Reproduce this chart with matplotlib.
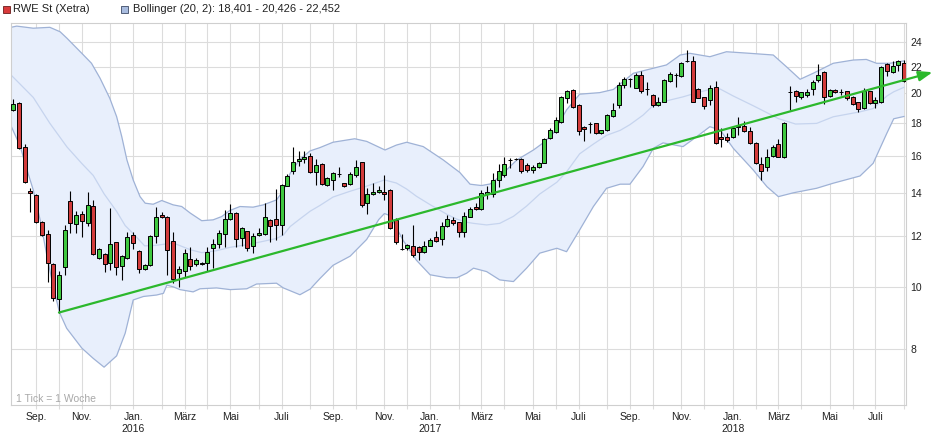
import numpy as np
import pandas as pd
import matplotlib
matplotlib.use("Agg")
import matplotlib.pyplot as plt
from matplotlib.patches import Rectangle
from matplotlib.ticker import FixedLocator, NullLocator

plt.rcParams['font.family'] = ['Liberation Sans', 'DejaVu Sans']

# weekly candles RWE St (Xetra), first week 3 Aug 2015
opens = [18.83, 19.29, 16.48, 14.08, 13.90, 12.60, 12.07, 10.85, 9.57, 10.73,
         13.59, 12.51, 12.97, 12.56, 13.36, 11.07, 11.24, 10.89, 11.73, 10.76,
         11.07, 12.03, 11.38, 10.65, 10.81, 12.00, 12.92, 12.85, 11.78, 10.50,
         10.57, 11.05, 10.85, 10.87, 10.89, 11.48, 11.65, 12.09, 12.74, 13.02,
         11.93, 12.20, 11.56, 12.02, 12.08, 12.71, 12.74, 12.48, 14.37, 15.12,
         15.68, 15.79, 15.96, 15.06, 15.53, 14.42, 14.64, 14.95, 14.49, 14.46,
         14.91, 15.62, 13.52, 13.96, 14.03, 14.06, 14.15, 12.71, 11.46, 11.50,
         11.56, 11.53, 11.32, 11.58, 11.96, 11.86, 12.44, 12.71, 12.59, 12.17,
         12.86, 13.30, 13.20, 13.93, 13.93, 14.66, 14.93, 15.75, 15.80, 15.79,
         15.46, 15.21, 15.36, 15.60, 17.02, 17.43, 18.02, 19.64, 20.23, 19.17,
         17.70, 17.89, 17.96, 17.33, 17.53, 18.46, 19.17, 20.57, 21.01, 20.40,
         21.35, 20.30, 19.87, 19.15, 19.40, 20.92, 21.33, 21.27, 22.41, 22.45,
         20.30, 19.71, 19.52, 20.42, 17.10, 17.08, 17.08, 17.74, 17.79, 17.47,
         16.76, 15.51, 15.38, 15.98, 16.68, 15.90, 20.05, 20.16, 19.75, 19.85,
         20.30, 20.94, 21.60, 19.80, 20.23, 20.10, 20.13, 19.75, 19.36, 18.99,
         20.13, 19.29, 19.36, 22.18, 21.55, 22.10, 22.32]
highs = [19.57, 19.38, 16.68, 14.23, 13.95, 12.66, 12.26, 10.89, 10.60, 12.48,
         14.10, 13.12, 13.12, 14.05, 13.65, 11.49, 11.28, 13.25, 11.76, 11.22,
         12.18, 12.18, 11.42, 10.85, 12.05, 13.30, 13.06, 12.89, 12.18, 10.76,
         11.45, 11.52, 11.09, 10.93, 11.52, 11.86, 12.26, 13.17, 13.47, 13.05,
         12.38, 12.23, 12.12, 12.35, 13.52, 12.74, 14.20, 14.44, 15.00, 16.50,
         16.27, 16.25, 16.13, 15.79, 15.60, 14.84, 15.10, 15.36, 14.52, 15.10,
         15.75, 15.66, 14.23, 14.52, 14.36, 14.93, 14.18, 12.78, 12.07, 11.67,
         12.48, 11.56, 11.80, 11.90, 12.22, 12.63, 12.94, 12.86, 12.63, 13.06,
         13.33, 13.49, 14.12, 14.35, 15.02, 15.51, 15.94, 15.84, 15.88, 15.84,
         15.57, 15.48, 15.66, 17.02, 17.64, 18.39, 19.80, 20.23, 20.30, 19.24,
         17.79, 18.06, 18.00, 17.55, 18.54, 19.29, 20.85, 21.22, 21.15, 21.52,
         21.68, 20.85, 19.94, 19.75, 21.01, 21.60, 21.47, 22.34, 23.34, 22.85,
         20.35, 19.75, 20.60, 20.90, 17.64, 17.33, 17.74, 18.35, 18.10, 17.74,
         16.80, 15.94, 16.37, 16.60, 17.00, 18.02, 20.52, 20.23, 20.11, 20.27,
         20.97, 22.21, 21.65, 20.28, 20.30, 20.28, 20.18, 19.80, 19.40, 20.40,
         20.18, 19.71, 22.05, 22.26, 22.43, 22.53, 22.55]
lows = [18.79, 16.37, 14.49, 13.09, 12.56, 12.00, 10.19, 9.49, 9.12, 10.43,
        12.12, 12.12, 11.94, 12.45, 11.21, 11.05, 10.56, 10.62, 10.43, 10.25,
        11.05, 11.45, 10.50, 10.62, 10.76, 11.69, 12.79, 10.43, 10.13, 10.01,
        10.37, 10.62, 10.76, 10.82, 10.57, 10.69, 11.49, 11.52, 12.71, 11.52,
        11.56, 11.35, 11.28, 12.00, 12.05, 11.76, 11.83, 12.05, 14.35, 14.95,
        15.42, 15.60, 15.02, 14.40, 14.41, 14.35, 14.12, 14.84, 14.32, 14.41,
        14.84, 13.33, 12.97, 13.90, 13.98, 13.65, 12.29, 11.67, 11.42, 11.42,
        11.12, 11.02, 11.28, 11.56, 11.76, 11.61, 12.38, 12.48, 11.97, 11.97,
        12.83, 13.17, 13.17, 13.68, 13.81, 14.29, 14.84, 15.29, 15.75, 15.02,
        15.10, 15.02, 15.29, 15.57, 16.98, 17.37, 17.96, 19.29, 18.95, 17.22,
        16.88, 17.37, 17.26, 17.29, 17.47, 18.39, 18.95, 20.35, 20.47, 20.35,
        20.04, 19.87, 19.01, 19.10, 19.38, 20.85, 20.47, 21.22, 22.34, 19.36,
        19.64, 18.88, 19.17, 16.66, 16.52, 16.82, 17.02, 17.22, 17.43, 16.68,
        15.53, 14.66, 15.16, 15.94, 15.90, 15.88, 18.83, 19.40, 19.57, 19.75,
        19.87, 20.79, 19.24, 19.75, 20.04, 19.85, 19.52, 19.15, 18.68, 18.88,
        19.22, 18.95, 19.29, 21.27, 21.47, 21.68, 20.80]
closes = [19.22, 16.42, 14.54, 13.98, 12.60, 12.03, 10.89, 9.60, 10.42, 12.25,
          12.56, 12.92, 12.65, 13.39, 11.24, 11.45, 10.86, 11.65, 10.73, 11.15,
          11.97, 11.69, 10.65, 10.81, 11.99, 12.86, 12.83, 11.41, 10.27, 10.65,
          11.28, 10.76, 11.02, 10.88, 11.32, 11.65, 12.12, 12.77, 13.02, 11.87,
          12.34, 11.48, 11.99, 12.12, 12.83, 12.43, 12.47, 14.39, 14.88, 15.62,
          15.79, 15.92, 15.06, 15.46, 14.47, 14.77, 15.02, 14.97, 14.35, 14.96,
          15.36, 13.39, 13.95, 14.06, 14.13, 13.96, 12.34, 11.73, 11.45, 11.61,
          11.20, 11.32, 11.58, 11.83, 11.79, 12.44, 12.76, 12.56, 12.18, 12.88,
          13.22, 13.20, 13.98, 14.03, 14.64, 15.16, 15.51, 15.76, 15.83, 15.16,
          15.18, 15.34, 15.57, 16.98, 17.53, 18.17, 19.70, 20.18, 19.02, 17.47,
          17.57, 17.90, 17.33, 17.53, 18.50, 18.83, 20.60, 21.03, 21.03, 21.35,
          20.16, 20.27, 19.20, 19.38, 20.94, 21.42, 21.35, 22.26, 22.43, 19.40,
          19.68, 19.13, 20.37, 16.72, 16.98, 16.92, 17.64, 17.81, 17.49, 16.72,
          15.57, 15.16, 15.90, 16.52, 15.94, 17.96, 20.07, 19.80, 20.06, 20.08,
          20.80, 21.37, 19.75, 20.23, 20.11, 20.11, 19.68, 19.24, 18.88, 20.16,
          19.29, 19.50, 22.00, 21.65, 22.05, 22.43, 20.90]

# Bollinger (20, 2) at week positions
upper_pos = [-0.4, 0.6, 3.5, 6.4, 8.2, 9.4, 12.0, 13.7, 15.2, 16.9, 18.1, 19.0, 19.9,
             21.0, 22.2, 23.1, 24.5, 26.0, 28.0, 29.5, 31.0, 33.0, 35.0, 36.5, 37.9,
             39.7, 42.0, 43.8, 46.1, 47.3, 48.5, 50.2, 52.0, 53.7, 56.0, 59.8, 61.9,
             65.1, 67.1, 68.9, 71.8, 75.3, 78.2, 80.0, 82.0, 83.5, 85.2, 88.2, 91.1,
             92.8, 94.6, 96.9, 99.2, 102.7, 105.1, 108.6, 112.1, 114.4, 116.8, 118.5,
             122.0, 124.9, 129.0, 133.1, 135.4, 137.8, 140.1, 143.6, 147.1, 149.4,
             151.2, 153.5, 156.0]
upper_val = [25.32, 25.43, 25.24, 25.32, 24.92, 24.35, 23.07, 22.26, 21.10, 19.64, 18.39,
             17.12, 15.75, 14.66, 13.81, 13.49, 13.44, 13.62, 13.41, 13.33, 13.02, 12.67,
             12.71, 12.86, 13.14, 13.33, 13.30, 13.41, 13.65, 14.12, 15.02, 15.79, 16.27,
             16.46, 16.78, 16.99, 16.83, 16.32, 16.61, 16.78, 16.52, 15.75, 15.06, 14.44,
             14.37, 14.45, 14.84, 15.75, 16.32, 16.74, 17.34, 18.84, 19.93, 20.04, 20.27,
             21.48, 21.87, 22.13, 22.93, 23.07, 22.79, 23.20, 23.07, 22.93, 21.99, 21.02,
             21.48, 22.26, 22.52, 22.57, 22.26, 22.26, 22.452]
middle_pos = [-0.4, 3.5, 6.4, 9.4, 12.0, 14.0, 15.9, 18.1, 19.6, 21.0, 23.0, 25.0, 28.0,
              31.0, 33.0, 35.6, 38.0, 41.0, 43.8, 46.1, 47.3, 48.5, 50.2, 52.0, 53.7,
              56.0, 59.0, 61.9, 65.0, 67.1, 68.9, 70.6, 73.0, 75.9, 77.7, 79.4, 80.6,
              82.9, 85.2, 87.6, 89.9, 92.2, 95.2, 96.9, 99.2, 101.6, 103.9, 106.3, 108.0,
              110.3, 112.1, 113.8, 117.3, 119.7, 122.0, 123.8, 126.1, 129.6, 132.0, 134.0,
              137.0, 140.7, 143.6, 148.3, 150.6, 153.0, 154.2, 156.0]
middle_val = [21.35, 19.70, 17.96, 16.50, 15.55, 14.90, 13.95, 13.10, 12.45, 12.10, 11.58,
              11.60, 11.70, 11.42, 11.30, 11.38, 11.52, 11.63, 11.77, 11.89, 12.04, 12.41,
              12.75, 13.11, 13.38, 13.79, 14.08, 14.34, 14.66, 14.50, 14.19, 13.83, 13.42,
              12.97, 12.74, 12.60, 12.55, 12.48, 12.55, 12.87, 13.35, 13.94, 14.54, 15.09,
              16.10, 16.67, 17.20, 17.51, 17.87, 18.49, 19.15, 19.40, 19.74, 20.03, 20.27,
              20.30, 19.80, 19.12, 18.65, 18.26, 17.91, 17.95, 18.38, 18.71, 18.93, 19.80,
              20.10, 20.426]
lower_pos = [-0.4, 0.0, 1.2, 2.3, 3.5, 4.7, 5.8, 7.0, 8.1, 9.35, 12.0, 14.0, 15.9, 18.1,
             19.6, 21.0, 22.8, 25.1, 26.3, 26.9, 28.0, 29.2, 31.5, 32.7, 35.6, 38.0, 40.9,
             42.6, 46.1, 47.3, 50.2, 52.0, 53.7, 56.0, 59.0, 61.9, 64.0, 65.0, 66.0, 67.0,
             68.3, 70.6, 73.0, 75.9, 77.7, 79.4, 80.6, 82.9, 85.2, 87.6, 89.9, 92.2, 95.2,
             96.9, 99.2, 101.6, 103.9, 106.3, 108.0, 110.3, 112.1, 113.8, 117.3, 119.7,
             122.0, 123.8, 126.1, 129.6, 132.0, 134.0, 136.6, 140.7, 143.6, 148.3, 150.6,
             153.0, 154.2, 156.0]
lower_val = [17.80, 17.47, 16.56, 15.30, 14.14, 12.71, 11.28, 10.00, 9.12, 8.62, 8.03, 7.74,
             7.50, 7.81, 8.47, 9.54, 9.66, 9.71, 9.77, 10.06, 10.00, 9.90, 9.82, 9.93, 9.96,
             9.90, 9.93, 10.10, 10.13, 9.96, 9.72, 9.92, 10.30, 10.80, 11.16, 11.85, 12.72,
             13.00, 12.90, 12.40, 11.80, 11.00, 10.44, 10.33, 10.33, 10.50, 10.69, 10.56,
             10.25, 10.19, 10.69, 11.28, 11.48, 11.34, 12.26, 13.33, 14.23, 14.44, 14.44,
             15.38, 16.42, 16.74, 16.52, 17.12, 17.74, 17.53, 16.42, 15.19, 14.31, 13.81,
             14.00, 14.23, 14.49, 14.87, 15.56, 17.33, 18.25, 18.401]

# trend line: start at the Oct 2015 low, arrow end beyond the last week
trend_start = (8, 9.12)
trend_end = (161.0, 21.56)

y_ticks = [8, 10, 12, 14, 16, 18, 20, 22, 24]
month_names = {1: 'Jan.', 3: 'März', 5: 'Mai', 7: 'Juli', 9: 'Sep.', 11: 'Nov.'}

weeks = pd.date_range('2015-08-03', periods=len(closes), freq='W-MON')

W, H = 948, 434
fig = plt.figure(figsize=(W / 100, H / 100), dpi=100)
ax = fig.add_axes([11 / W, 29 / H, 895 / W, 382.5 / H])

x = np.arange(len(closes))
o = np.array(opens)
c = np.array(closes)

# band
band_x = np.concatenate([upper_pos, lower_pos[::-1]])
band_y = np.concatenate([upper_val, lower_val[::-1]])
ax.fill(band_x, band_y, color='#e8effc', zorder=1, lw=0)
ax.plot(upper_pos, upper_val, color='#9fb2d6', lw=0.9, zorder=2)
ax.plot(lower_pos, lower_val, color='#9fb2d6', lw=0.9, zorder=2)
ax.plot(middle_pos, middle_val, color='#c6d4ee', lw=0.9, zorder=2)

# candles
ax.vlines(x, lows, highs, color='black', lw=0.8, zorder=3)
cols = np.where(c >= o, '#3fc83f', '#d23b3b')
ax.bar(x, np.abs(c - o), bottom=np.minimum(o, c), width=0.7, color=cols,
       edgecolor='black', linewidth=0.7, zorder=4)

# trend arrow
ax.annotate('', xy=trend_end, xytext=trend_start, annotation_clip=False,
            arrowprops=dict(arrowstyle='-|>,head_length=0.55,head_width=0.2',
                            color='#2cb82c', lw=1.6, mutation_scale=15,
                            shrinkA=0, shrinkB=0), zorder=5)

ax.set_yscale('log')
ax.set_xlim(-0.4, 156.35)
ax.set_ylim(6.55, 25.76)

ax.yaxis.tick_right()
ax.yaxis.set_major_locator(FixedLocator(y_ticks))
ax.yaxis.set_minor_locator(NullLocator())
ax.set_yticklabels([str(t) for t in y_ticks])

# month gridlines at the week holding the 1st
month_idx, month_lab = [], []
for i, d in enumerate(weeks):
    end = d + pd.Timedelta(days=6)
    if d.day == 1 or end.month != d.month:
        m = end.month
        month_idx.append(i)
        lab = month_names.get(m, '')
        if m == 1:
            lab += '\n' + str(end.year)
        month_lab.append(lab)
ax.set_xticks(month_idx)
ax.set_xticklabels(month_lab)

ax.grid(True, color='#dcdcdc', lw=0.8, zorder=0)
ax.set_axisbelow(True)
ax.tick_params(axis='y', length=0, pad=3, labelsize=7.5, labelcolor='#222222')
ax.tick_params(axis='x', length=3, color='#dcdcdc', pad=2, labelsize=7.5,
               labelcolor='#222222')
for s in ax.spines.values():
    s.set_color('#cfcfcf')
    s.set_linewidth(0.8)

ax.text(5 / 895, 6 / 382.5, '1 Tick = 1 Woche', transform=ax.transAxes,
        fontsize=7.5, color='#a8a8a8', va='center', ha='left')

# legend row
fig.patches.append(Rectangle((3 / W, 1 - 12.5 / H), 7 / W, 7 / H, transform=fig.transFigure,
                             facecolor='#d9393b', edgecolor='#6b1d1d', lw=0.6))
fig.text(13 / W, 1 - 9 / H, 'RWE St (Xetra)', fontsize=8, color='#222222', va='center')
fig.patches.append(Rectangle((120.5 / W, 1 - 12.5 / H), 7 / W, 7 / H, transform=fig.transFigure,
                             facecolor='#a9bcdf', edgecolor='#3d4a66', lw=0.6))
fig.text(133 / W, 1 - 9 / H, 'Bollinger (20, 2): 18,401 - 20,426 - 22,452', fontsize=8,
         color='#222222', va='center')

fig.savefig('out.png', dpi=100)
